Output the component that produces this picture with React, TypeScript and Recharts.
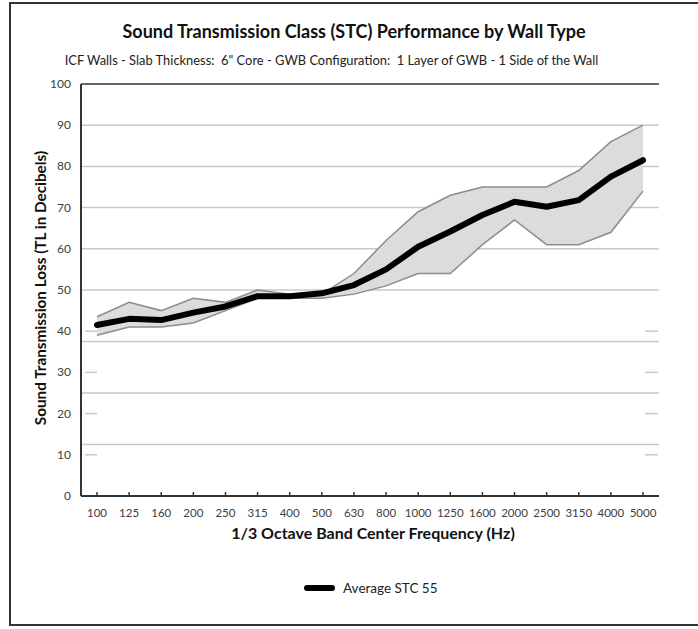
import React from "react";
import {
  ComposedChart, Line, Area, XAxis, YAxis, CartesianGrid, ReferenceLine,
} from "recharts";

const frequencies = [
  "100", "125", "160", "200", "250", "315", "400", "500", "630",
  "800", "1000", "1250", "1600", "2000", "2500", "3150", "4000", "5000",
];
const averageTL = [41.5, 43, 42.7, 44.5, 46, 48.5, 48.5, 49.2, 51.2, 55, 60.5, 64.2, 68.2, 71.4, 70.2, 71.8, 77.5, 81.5];
const upperTL = [43.5, 47, 45, 48, 47, 50, 49, 49, 54, 62, 69, 73, 75, 75, 75, 79, 86, 90];
const lowerTL = [39, 41, 41, 42, 45, 48, 48, 48, 49, 51, 54, 54, 61, 67, 61, 61, 64, 74];

const yTicks = [0, 10, 20, 30, 40, 50, 60, 70, 80, 90, 100];
const fullGridValues = [50, 60, 70, 80, 90];
const stubTicks = [10, 20, 30, 40];
const offsetGridValues = [12.5, 25, 37.5];

const data = frequencies.map((f, i) => ({
  freq: f,
  avg: averageTL[i],
  low: lowerTL[i],
  high: upperTL[i],
}));

const FONT = "Lato, 'Open Sans', sans-serif";
const AXIS = "#333333";
const GRID = "#c9c9c9";
const PLOT_W = 578;

// left tick label plus the short grid stubs on both sides for the lower values
function LeftTick(props: any) {
  const { x, y, payload } = props;
  const axisX = x + 10;
  const stub = stubTicks.includes(payload.value);
  return (
    <g>
      <text x={x} y={y} dy={4} textAnchor="end" fontSize={12} fill="#404040" fontFamily={FONT}>
        {payload.value}
      </text>
      {stub && <line x1={axisX + 4} x2={axisX + 16} y1={y} y2={y} stroke={GRID} strokeWidth={1.5} />}
      {stub && <line x1={axisX + PLOT_W - 14} x2={axisX + PLOT_W - 1} y1={y} y2={y} stroke={GRID} strokeWidth={1.5} />}
    </g>
  );
}

export default function App() {
  return (
    <div style={{ position: "absolute", left: 0, top: 0, width: 698, height: 629, background: "#fff", overflow: "hidden" }}>
      <div
        style={{
          position: "absolute", left: 9, top: 2, width: 730, height: 624,
          border: "2px solid #333", borderRight: "none", boxSizing: "border-box",
        }}
      />
      <div
        style={{
          position: "absolute", left: 0, top: 20, width: 708, textAlign: "center",
          fontFamily: FONT, fontWeight: 700, fontSize: 18, color: "#111",
        }}
      >
        Sound Transmission Class (STC) Performance by Wall Type
      </div>
      <div
        style={{
          position: "absolute", left: 0, top: 52, width: 663, textAlign: "center",
          fontFamily: FONT, fontSize: 12.9, color: "#222",
        }}
      >
        ICF Walls - Slab Thickness:&nbsp; 6" Core - GWB Configuration:&nbsp; 1 Layer of GWB - 1 Side of the Wall
      </div>
      <div
        style={{
          position: "absolute", left: 40 - 200, top: 288 - 10, width: 400, height: 20, lineHeight: "20px",
          textAlign: "center", transform: "rotate(-90deg)",
          fontFamily: FONT, fontWeight: 700, fontSize: 15.3, color: "#111",
        }}
      >
        Sound Transmission Loss (TL in Decibels)
      </div>
      <div
        style={{
          position: "absolute", left: 84, top: 523, width: 578, textAlign: "center",
          fontFamily: FONT, fontWeight: 700, fontSize: 16, color: "#111",
        }}
      >
        1/3 Octave Band Center Frequency (Hz)
      </div>
      <div style={{ position: "absolute", left: 304, top: 585, width: 31, height: 6, borderRadius: 3, background: "#000" }} />
      <div
        style={{
          position: "absolute", left: 343, top: 579, height: 18, lineHeight: "18px",
          fontFamily: FONT, fontSize: 13.5, color: "#222",
        }}
      >
        Average STC 55
      </div>
      <div style={{ position: "absolute", left: 0, top: 0 }}>
        <ComposedChart width={698} height={629} data={data} margin={{ top: 84, right: 39, bottom: 103, left: 41 }}>
          <CartesianGrid vertical={false} horizontalValues={fullGridValues} stroke={GRID} strokeWidth={1.5} />
          {offsetGridValues.map((v) => (
            <ReferenceLine key={v} y={v} stroke={GRID} strokeWidth={1.5} />
          ))}
          <XAxis
            dataKey="freq"
            height={30}
            padding={{ left: 16, right: 16 }}
            tickSize={-4}
            tickMargin={17}
            interval={0}
            tick={{ fontSize: 11.5, fill: "#404040", fontFamily: FONT }}
            tickLine={{ stroke: AXIS, strokeWidth: 1.5 }}
            axisLine={{ stroke: AXIS, strokeWidth: 2 }}
          />
          <YAxis
            width={40}
            domain={[0, 100]}
            ticks={yTicks}
            tickLine={false}
            tickMargin={4}
            tick={<LeftTick />}
            axisLine={{ stroke: AXIS, strokeWidth: 2 }}
          />
          <YAxis
            yAxisId="right"
            orientation="right"
            width={0}
            domain={[0, 100]}
            ticks={yTicks}
            tickLine={false}
            tick={false}
            axisLine={{ stroke: AXIS, strokeWidth: 1.5 }}
          />
          <ReferenceLine y={100} stroke={AXIS} strokeWidth={1.5} />
          <Area
            dataKey={(d: any) => [d.low, d.high]}
            fill="#dcdcdc"
            fillOpacity={1}
            stroke="none"
            isAnimationActive={false}
            legendType="none"
          />
          <Line dataKey="high" stroke="#8c8c8c" strokeWidth={1.5} dot={false} isAnimationActive={false} legendType="none" />
          <Line dataKey="low" stroke="#8c8c8c" strokeWidth={1.5} dot={false} isAnimationActive={false} legendType="none" />
          <Line
            dataKey="avg"
            name="Average STC 55"
            stroke="#000"
            strokeWidth={6}
            strokeLinecap="round"
            strokeLinejoin="round"
            dot={false}
            isAnimationActive={false}
          />
        </ComposedChart>
      </div>
    </div>
  );
}
